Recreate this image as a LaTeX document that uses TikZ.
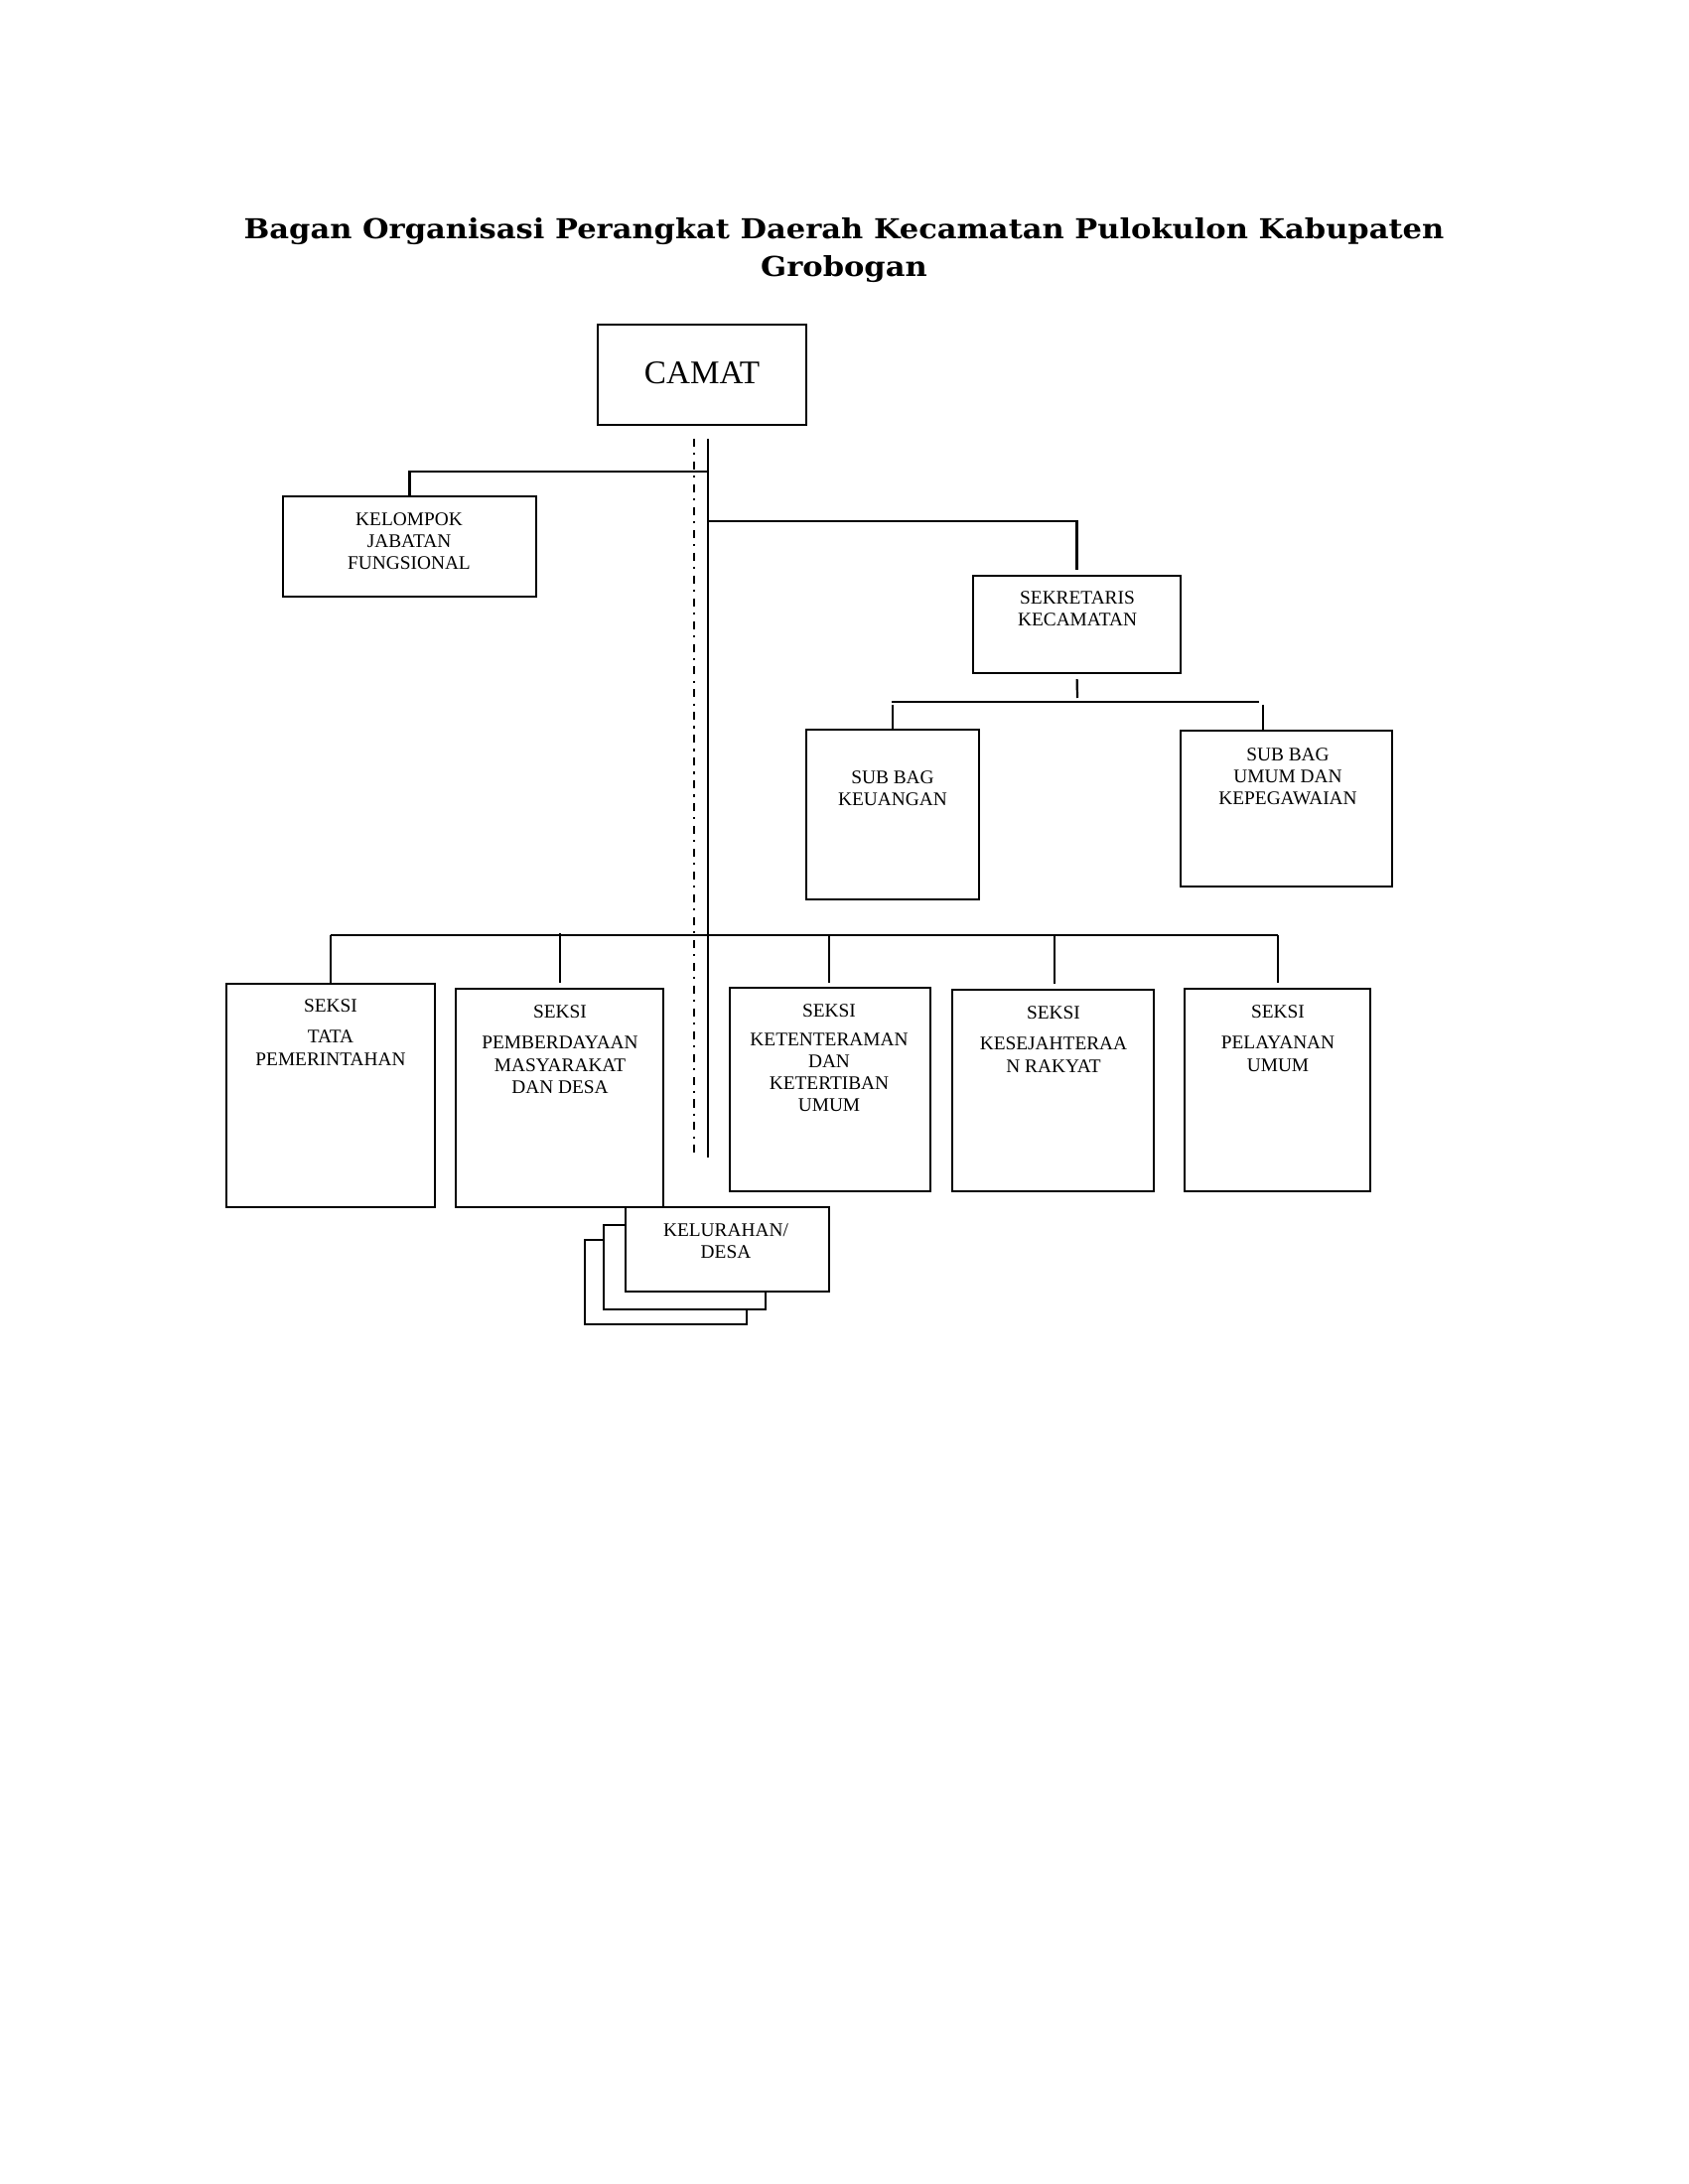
\documentclass[tikz,border=0pt]{standalone}
\usepackage{fontspec}
\setmainfont{Liberation Serif}
\newfontfamily\titlefont{DejaVu Serif}[FakeStretch=1.104]
\tikzset{
  box/.style={draw, line width=0.8pt, fill=white, inner sep=0pt},
  lbl/.style={font=\fontsize{7}{8}\selectfont, align=center, inner sep=0pt, anchor=north},
  conn/.style={line width=0.8pt},
  dashdot/.style={line width=0.7pt, dash pattern=on 2.9pt off 2.2pt on 0.8pt off 2.4pt}
}
\newcommand{\bx}[5]{\node[box, minimum width={(#4-#2)*0.005in}, minimum height={(#5-#3)*0.005in}] (#1) at ({(#2+#4)/2},{(#3+#5)/2}) {};}
\begin{document}
\begin{tikzpicture}[x=0.005in, y=-0.005in]
\useasboundingbox (0,0) rectangle (1700,2200);
\fill[white] (0,0) rectangle (1700,2200);

% title
\node[font=\titlefont\bfseries\fontsize{10}{13.7}\selectfont, align=center, inner sep=0pt, anchor=north] (title) at (850,219)
  {Bagan Organisasi Perangkat Daerah Kecamatan Pulokulon Kabupaten\\Grobogan};

% trunk lines
\coordinate (tTop) at (713,442);
\coordinate (tBot) at (713,1166);
\coordinate (dTop) at (699,442);
\coordinate (dBot) at (699,1165);
\draw[dashdot] (dTop) -- (dBot);
\draw[conn] (tTop) -- (tBot);

% boxes
\bx{camat}{602}{327}{812}{428}
\bx{kel}{285}{500}{540}{601}
\bx{sek}{980}{580}{1189}{678}
\bx{keu}{812}{735}{986}{906}
\bx{umum}{1189}{736}{1402}{893}
\bx{tata}{228}{991}{438}{1216}
\bx{pemb}{459}{996}{668}{1216}
\bx{kete}{735}{995}{937}{1200}
\bx{kese}{959}{997}{1162}{1200}
\bx{pela}{1193}{996}{1380}{1200}
\bx{desaC}{589}{1249}{752}{1334}
\bx{desaB}{608}{1234}{771}{1319}
\bx{desaA}{630}{1216}{835}{1301}

% texts
\node[font=\fontsize{12}{14}\selectfont, inner sep=0pt, anchor=base] (tcamat) at (707,387) {CAMAT};
\node[lbl] (tkel) at (412,516) {KELOMPOK\\JABATAN\\FUNGSIONAL};
\node[lbl] (tsek) at (1085,595) {SEKRETARIS\\KECAMATAN};
\node[lbl] (tkeu) at (899,776) {SUB BAG\\KEUANGAN};
\node[lbl] (tumum) at (1297,753) {SUB BAG\\UMUM DAN\\KEPEGAWAIAN};
\node[lbl] (ttata) at (333,1006) {SEKSI\\[3.4pt]TATA\\PEMERINTAHAN};
\node[lbl] (tpemb) at (564,1012) {SEKSI\\[3.4pt]PEMBERDAYAAN\\MASYARAKAT\\DAN DESA};
\node[lbl] (tkete) at (835,1011) {SEKSI\\[2.5pt]KETENTERAMAN\\DAN\\KETERTIBAN\\UMUM};
\node[lbl] (tkese) at (1061,1013) {SEKSI\\[3.4pt]KESEJAHTERAA\\N RAKYAT};
\node[lbl] (tpela) at (1287,1012) {SEKSI\\[3.4pt]PELAYANAN\\UMUM};
\node[lbl] (tdesa) at (731,1232) {KELURAHAN/\\DESA};

% connectors from trunk
\coordinate (j1) at (713,475);
\coordinate (j2) at (713,525);
\draw[conn] (j1) -| (kel.north);
\draw[conn, shorten >=1.8pt] (j2) -| (sek.north);

% sekretaris sub-tree
\coordinate (sbL) at (898,707);
\coordinate (sbR) at (1268,707);
\draw[conn, shorten <=1.8pt] (sek.south) -- (1085,703);
\draw[conn] (sbL) -- (sbR);
\draw[conn] (899,710) -- (899,710 |- keu.north);
\draw[conn] (1272,710) -- (1272,710 |- umum.north);

% bottom bar
\coordinate (bL) at (333,942);
\coordinate (bR) at (1287,942);
\draw[conn] (bL) -- (bR);
\draw[conn] (bL) -- (tata.north);
\draw[conn, shorten >=1.8pt] (564,940) -- (564,940 |- pemb.north);
\draw[conn, shorten >=1.4pt] (835,942) -- (835,942 |- kete.north);
\draw[conn, shorten >=1.8pt] (1062,942) -- (1062,942 |- kese.north);
\draw[conn, shorten >=1.8pt] (bR) -- (bR |- pela.north);
\end{tikzpicture}
\end{document}
